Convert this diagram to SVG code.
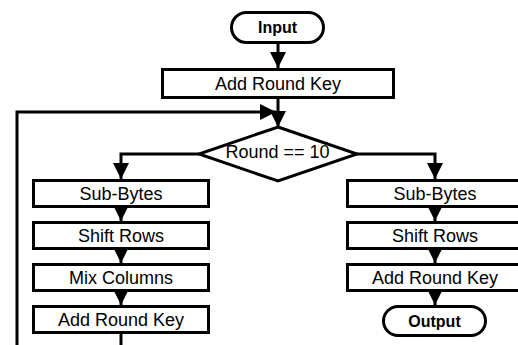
<svg xmlns="http://www.w3.org/2000/svg" width="518" height="345" viewBox="0 0 518 345">
<defs>
<marker id="ah" markerUnits="userSpaceOnUse" markerWidth="16" markerHeight="16" viewBox="0 0 14 14" refX="14" refY="7" orient="auto">
<path d="M0,0 L14,7 L0,14 Z" fill="#000"/>
</marker>
<style>
.box{fill:#fff;stroke:#000;stroke-width:3}
.t{font-family:"Liberation Sans",Arial,sans-serif;font-size:18px;text-anchor:middle;fill:#000}
.b{font-family:"Liberation Sans",Arial,sans-serif;font-size:16px;font-weight:bold;text-anchor:middle;fill:#000}
.c{fill:none;stroke:#000;stroke-width:3}
</style>
</defs>
<rect width="518" height="345" fill="#fff"/>
<g id="connectors">
<path class="c" d="M278,43 V68" marker-end="url(#ah)"/>
<path class="c" d="M278,98 V127" marker-end="url(#ah)"/>
<path class="c" d="M17,345 V112 H276" marker-end="url(#ah)"/>
<path class="c" d="M199,154 H121 V179" marker-end="url(#ah)"/>
<path class="c" d="M357,154 H435 V179" marker-end="url(#ah)"/>
<path class="c" d="M121,207 V221" marker-end="url(#ah)"/>
<path class="c" d="M121,249 V263" marker-end="url(#ah)"/>
<path class="c" d="M121,291 V305" marker-end="url(#ah)"/>
<path class="c" d="M121,333 V345"/>
<path class="c" d="M435,207 V221" marker-end="url(#ah)"/>
<path class="c" d="M435,249 V263" marker-end="url(#ah)"/>
<path class="c" d="M435,291 V305" marker-end="url(#ah)"/>
</g>
<g id="input">
<rect class="box" x="231.5" y="12.5" width="92" height="30" rx="15"/>
<text class="b" x="277.5" y="33">Input</text>
</g>
<g id="addroundkey0">
<rect class="box" x="162.5" y="69.5" width="231" height="28"/>
<text class="t" x="278" y="90">Add Round Key</text>
</g>
<g id="decision">
<polygon class="box" points="278,127 357,154 278,181 199,154"/>
<text class="t" x="277.5" y="158">Round == 10</text>
</g>
<g id="subbytes-l">
<rect class="box" x="33.5" y="180.5" width="175" height="26"/>
<text class="t" x="121" y="200">Sub-Bytes</text>
</g>
<g id="shiftrows-l">
<rect class="box" x="33.5" y="222.5" width="175" height="26"/>
<text class="t" x="121" y="242">Shift Rows</text>
</g>
<g id="mixcolumns-l">
<rect class="box" x="33.5" y="264.5" width="175" height="26"/>
<text class="t" x="121" y="284">Mix Columns</text>
</g>
<g id="addroundkey-l">
<rect class="box" x="33.5" y="306.5" width="175" height="26"/>
<text class="t" x="121" y="326">Add Round Key</text>
</g>
<g id="subbytes-r">
<rect class="box" x="347.5" y="180.5" width="175" height="26"/>
<text class="t" x="435" y="200">Sub-Bytes</text>
</g>
<g id="shiftrows-r">
<rect class="box" x="347.5" y="222.5" width="175" height="26"/>
<text class="t" x="435" y="242">Shift Rows</text>
</g>
<g id="addroundkey-r">
<rect class="box" x="347.5" y="264.5" width="175" height="26"/>
<text class="t" x="435" y="284">Add Round Key</text>
</g>
<g id="output">
<rect class="box" x="383.5" y="306.5" width="102" height="29" rx="14.5"/>
<text class="b" x="434.5" y="327">Output</text>
</g>
</svg>
